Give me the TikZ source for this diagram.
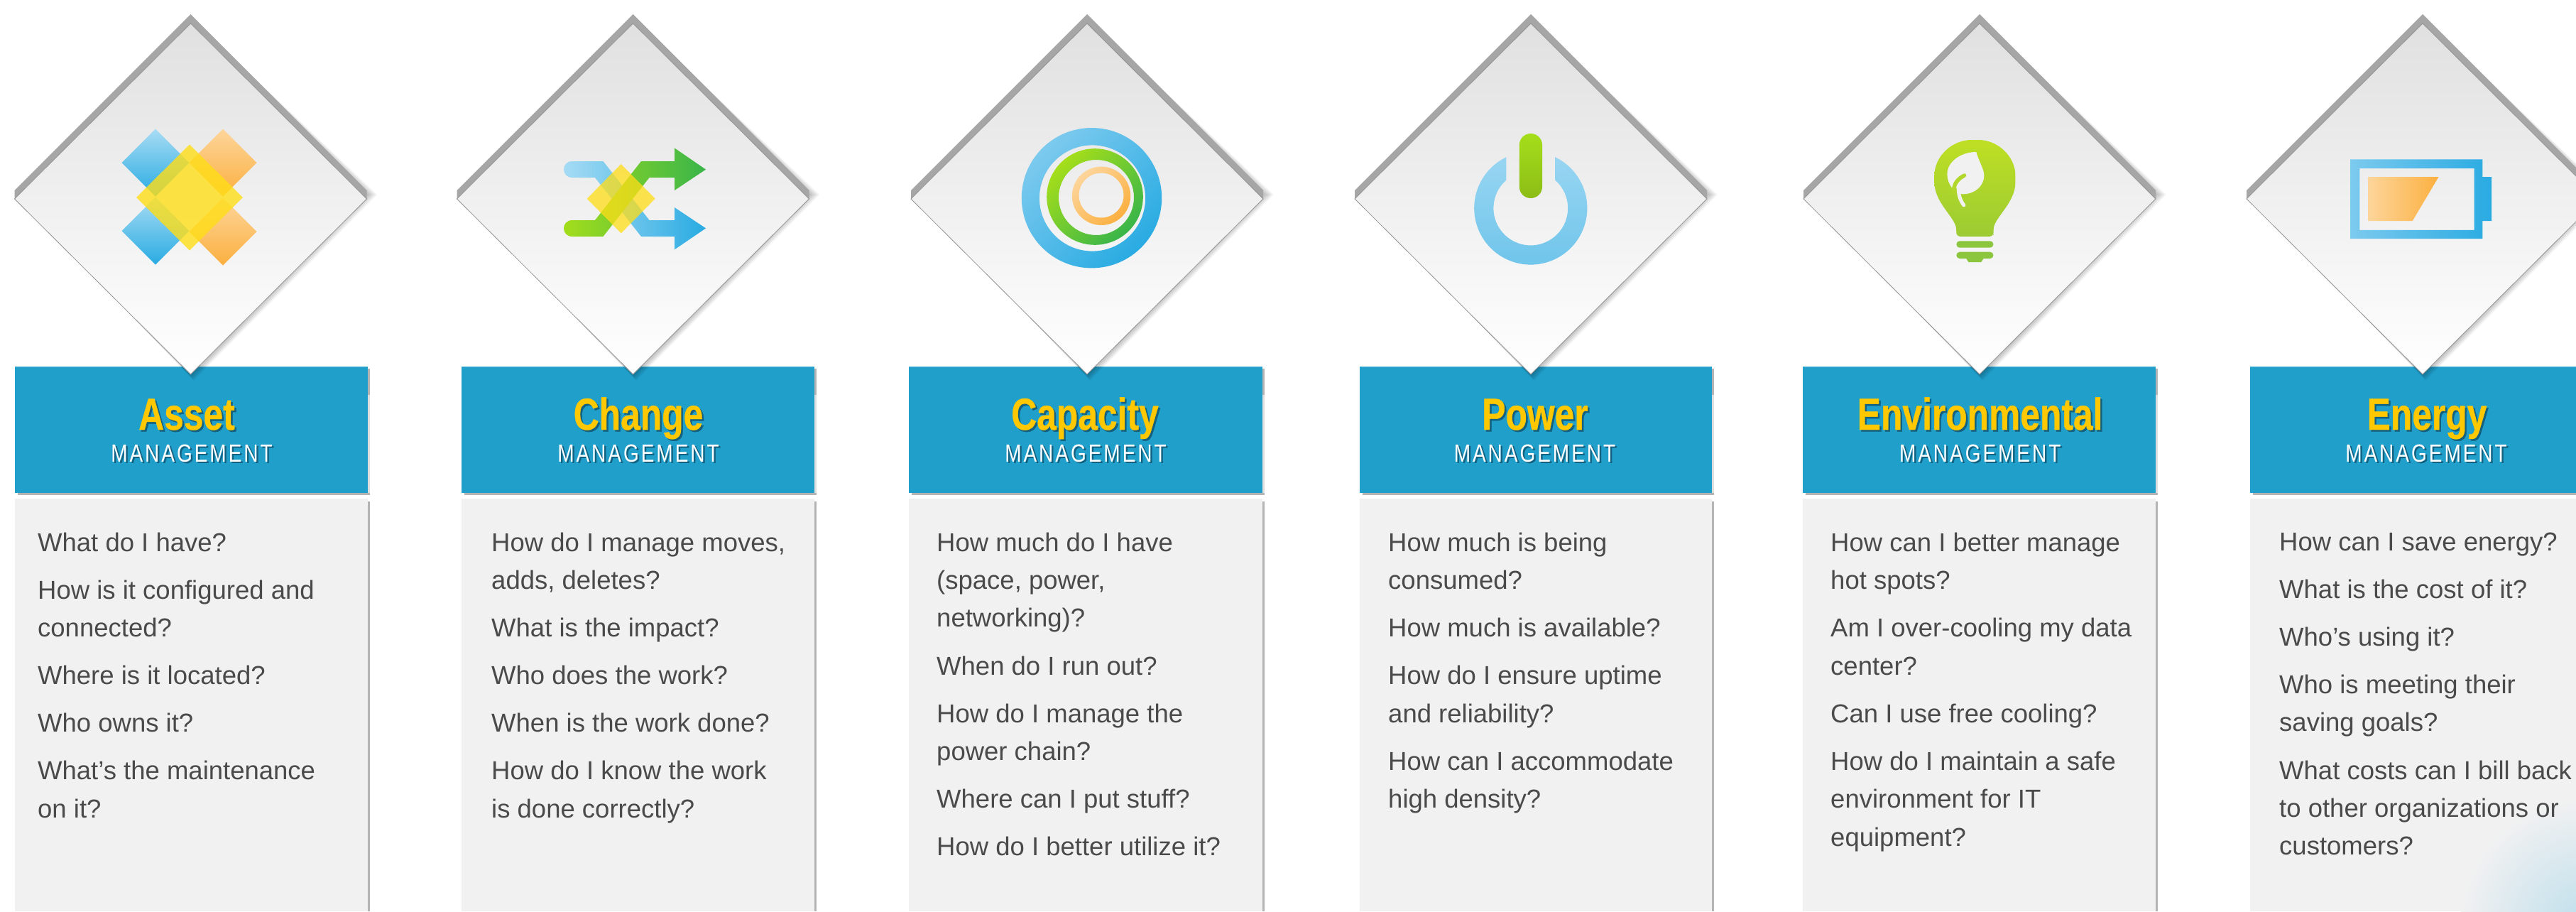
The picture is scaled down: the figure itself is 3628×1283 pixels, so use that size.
\documentclass[tikz,border=0pt]{standalone}
\usepackage{fontspec}
\setmainfont{Liberation Sans}
\newfontfamily\titlefont[FakeStretch=0.79,FakeBold=0.6]{Liberation Sans Bold}
\newfontfamily\subfont[FakeStretch=0.80,LetterSpace=8.5]{Liberation Sans}
\usetikzlibrary{calc}
\definecolor{hdr}{HTML}{209FCB}
\definecolor{hdrtop}{HTML}{55B6D8}
\definecolor{hdrshade}{HTML}{B4B4B4}
\definecolor{hdrlight}{HTML}{DEDEDE}
\definecolor{bodybg}{HTML}{F1F1F1}
\definecolor{bodytx}{HTML}{4A4A4A}
\definecolor{ttl}{HTML}{FFC800}
\definecolor{ttlsh}{HTML}{14607F}
\definecolor{bluedk}{HTML}{29ABE2}
\definecolor{bluelt}{HTML}{A8DCF4}
\definecolor{bluemd}{HTML}{7CCAEE}
\definecolor{orgdk}{HTML}{FBB040}
\definecolor{orglt}{HTML}{FDD59B}
\definecolor{yel}{HTML}{FFDE17}
\definecolor{grnlt}{HTML}{A5DE1A}
\definecolor{grndk}{HTML}{39B54A}
\definecolor{glow}{HTML}{BFDFEC}
\definecolor{pwrtop}{HTML}{98D5F2}
\definecolor{pwrbot}{HTML}{6DC4EA}
\definecolor{blbtop}{HTML}{BEDF23}
\definecolor{blbbot}{HTML}{9CCB33}
\definecolor{blbbase}{HTML}{8CC63F}
\newcommand{\shtxt}[2]{\leavevmode\rlap{\kern2.5pt\raisebox{-2.5pt}[0pt][0pt]{\textcolor{ttlsh}{#2}}}\textcolor{#1}{#2}}
\tikzset{
  x=1pt,y=-1pt,
  headbox/.style={fill=hdr,draw=none},
  titletext/.style={inner sep=0pt,anchor=base,font=\titlefont\fontsize{63}{63}\selectfont},
  subtext/.style={inner sep=0pt,anchor=base,font=\subfont\fontsize{35}{35}\selectfont},
  bodytext/.style={inner sep=0pt,anchor=north west,align=left,text=bodytx,font=\fontsize{36.5}{53.4}\selectfont},
  bar/.style={fill=bodybg,draw=none},
  edge/.style={fill=hdrshade,draw=none},
}
\newcommand{\dmd}[1]{%
  \begin{scope}[shift={(#1,280)}]
    \foreach \d in {1.5,3,...,15}{
      \fill[black,opacity=0.028] (\d*0.3,-260+\d*0.6) -- (248+\d,-6) -- (\d*0.3,247+\d*0.6) -- (-248+\d*0.4,0) -- cycle;
    }
    \fill[black!35] (0,-260) -- (248,-12) -- (248,0) -- (0,0) -- (-248,0) -- (-248,-12) -- cycle;
    \shade[top color=black!12,bottom color=white,draw=black!42,line width=0.8pt]
      (0,-247) -- (248,0) -- (0,247) -- (-248,0) -- cycle;
  \end{scope}}
\newcommand{\sq}[5]{\shade[top color=#4,bottom color=#5] (#1,#2-#3) -- (#1+#3,#2) -- (#1,#2+#3) -- (#1-#3,#2) -- cycle;}
\begin{document}
\begin{tikzpicture}
\useasboundingbox (0,0) rectangle (3628,1283);
\clip (0,0) rectangle (3628,1283);
\fill[white] (0,0) rectangle (3628,1283);
% columns
\foreach \l/\r in {21/518,650/1147,1280/1778,1915/2411,2539/3036,3169/3668}{
  \fill[edge] (\l+4,690) rectangle (\r+3,697);
  \fill[hdrlight] (\r,556) rectangle (\r+3,697);
  \fill[edge] (\r,519) rectangle (\r+3,556);
  \fill[edge] (\r,694) rectangle (\r+3,697);
  \fill[bar] (\l,702) rectangle (\r,1283);
  \fill[edge] (\r,706) rectangle (\r+3,1283);
  \fill[headbox] (\l,516) rectangle (\r,694);
  \fill[hdrtop] (\l,516) rectangle (\r,517);
}
% glow
\begin{scope}
\clip (3169,702) rectangle (3628,1283);
\shade[inner color=glow,outer color=bodybg] (3640,1300) circle[radius=175];
\end{scope}
\dmd{268.5}\dmd{891.5}\dmd{1531}\dmd{2156}\dmd{2788}\dmd{3412}
% Asset icon
\sq{219}{229}{47.5}{bluelt}{bluedk}
\sq{219}{325}{47.5}{bluelt}{bluedk}
\sq{314}{229}{47.5}{orglt}{orgdk}
\sq{314}{326}{47.5}{orglt}{orgdk}
\fill[yel,opacity=0.8] (267,203.5) -- (342,278) -- (267,352.5) -- (192,278) -- cycle;
% Change icon
\shade[left color=bluelt,right color=bluedk] (806,227) -- (849.5,227) -- (914.5,310) -- (950,310) -- (950,292) -- (994,321.4) -- (950,351.4) -- (950,333) -- (903,333) -- (838,250) -- (806,250) .. controls (790,250) and (790,227) .. (806,227) -- cycle;
\shade[left color=grnlt,right color=grndk] (806,310) -- (838,310) -- (903,227) -- (950,227) -- (950,208.4) -- (994,238.6) -- (950,268) -- (950,250) -- (914.5,250) -- (849.5,333) -- (806,333) .. controls (790,333) and (790,310) .. (806,310) -- cycle;
\fill[yel,opacity=0.75] (874.7,231) -- (922.7,279.7) -- (874.7,328.4) -- (826.7,279.7) -- cycle;
% Capacity icon
\shade[even odd rule,top color=bluemd,bottom color=bluedk,shading angle=45] (1537.5,278.7) circle[radius=98.7] (1538.5,279) circle[radius=74.6];
\shade[even odd rule,top color=grnlt,bottom color=grndk,shading angle=45] (1542,277) circle[radius=67.8] (1544,278) circle[radius=53];
\shade[even odd rule,top color=orglt,bottom color=orgdk,shading angle=45] (1551,275.8) circle[radius=41.2] (1551,275) circle[radius=31.5];
% Power icon
\shade[top color=pwrtop,bottom color=pwrbot] (2155.8,293) ++(295.6:79.6) arc[start angle=295.6,end angle=604.4,radius=79.6] -- (2155.8-34.4,253.5) arc[start angle=589,end angle=311,radius=52.4] -- cycle;
\shade[top color=grnlt,bottom color=grnlt!85!black,rounded corners=16pt] (2139.8,188) rectangle (2172,279);
% Bulb icon
\begin{scope}[shift={(2781.4,0)}]
\shade[top color=blbtop,bottom color=blbbot,rounded corners=5pt] (-26,333) -- (-26,326) .. controls (-28,306) and (-57,285) .. (-57,252) .. controls (-57,220) and (-32,197) .. (0,197) .. controls (32,197) and (57,220) .. (57,252) .. controls (57,285) and (28,306) .. (26,326) -- (26,333) -- cycle;
\fill[blbbase,rounded corners=4.5pt] (-26,339.3) rectangle (26,348.7);
\fill[blbbase] (-14.7,360) -- (14.5,360) -- (9,369) -- (-9,369) -- cycle;
\fill[blbbase,rounded corners=4.5pt] (-26,354.7) rectangle (26,364);
\fill[bodybg] (1.9,214) .. controls (-20,214) and (-39,228) .. (-39,245) .. controls (-39,254) and (-35,262) .. (-29.7,267.3) -- (-22,262) -- (-21,273) -- (-16.4,273.3) .. controls (0,273) and (13,262) .. (12.9,246.7) .. controls (12.9,238) and (5,226) .. (1.9,214) -- cycle;
\draw[blbtop!60!blbbot,line width=5.5pt,line cap=round] (-30,271) .. controls (-30,258) and (-24,252) .. (-15,247);
\draw[bodybg,line width=5pt,line cap=round] (-23,262) .. controls (-24,272) and (-21,282) .. (-15.5,289);
\end{scope}
% Battery icon
\shade[even odd rule,left color=bluemd,right color=bluedk] (3310,224.4) -- (3496.4,224.4) -- (3496.4,249) -- (3509,249) -- (3509,311) -- (3496.4,311) -- (3496.4,336) -- (3310,336) -- cycle (3323.3,237) rectangle (3484.7,323.8);
\shade[left color=orglt,right color=orgdk] (3335,249) -- (3434.5,249) -- (3397.7,311) -- (3335,311) -- cycle;
% Headers
\node[titletext] (t1) at (263,605) {\shtxt{ttl}{Asset}};
\node[subtext] (s1) at (270,650) {\shtxt{white}{MANAGEMENT}};
\node[titletext] (t2) at (899,605) {\shtxt{ttl}{Change}};
\node[subtext] (s2) at (899,650) {\shtxt{white}{MANAGEMENT}};
\node[titletext] (t3) at (1528,605) {\shtxt{ttl}{Capacity}};
\node[subtext] (s3) at (1529,650) {\shtxt{white}{MANAGEMENT}};
\node[titletext] (t4) at (2162,605) {\shtxt{ttl}{Power}};
\node[subtext] (s4) at (2161.5,650) {\shtxt{white}{MANAGEMENT}};
\node[titletext] (t5) at (2788.6,605) {\shtxt{ttl}{Environmental}};
\node[subtext] (s5) at (2788.7,650) {\shtxt{white}{MANAGEMENT}};
\node[titletext] (t6) at (3418,605) {\shtxt{ttl}{Energy}};
\node[subtext] (s6) at (3417,650) {\shtxt{white}{MANAGEMENT}};
% Body
\newcommand{\pg}{\\[13.7pt]}
\node[bodytext] (b1) at (53,749.5) {What do I have?\pg How is it configured and\\connected?\pg Where is it located?\pg Who owns it?\pg What’s the maintenance\\on it?};
\node[bodytext] (b2) at (692,749.5) {How do I manage moves,\\adds, deletes?\pg What is the impact?\pg Who does the work?\pg When is the work done?\pg How do I know the work\\is done correctly?};
\node[bodytext] (b3) at (1319,749.5) {How much do I have\\(space, power,\\networking)?\pg When do I run out?\pg How do I manage the\\power chain?\pg Where can I put stuff?\pg How do I better utilize it?};
\node[bodytext] (b4) at (1955,749.5) {How much is being\\consumed?\pg How much is available?\pg How do I ensure uptime\\and reliability?\pg How can I accommodate\\high density?};
\node[bodytext] (b5) at (2578,749.5) {How can I better manage\\hot spots?\pg Am I over-cooling my data\\center?\pg Can I use free cooling?\pg How do I maintain a safe\\environment for IT\\equipment?};
\node[bodytext] (b6) at (3210,749.5) {How can I save energy?\pg What is the cost of it?\pg Who’s using it?\pg Who is meeting their\\saving goals?\pg What costs can I bill back\\to other organizations or\\customers?};
\end{tikzpicture}
\end{document}
